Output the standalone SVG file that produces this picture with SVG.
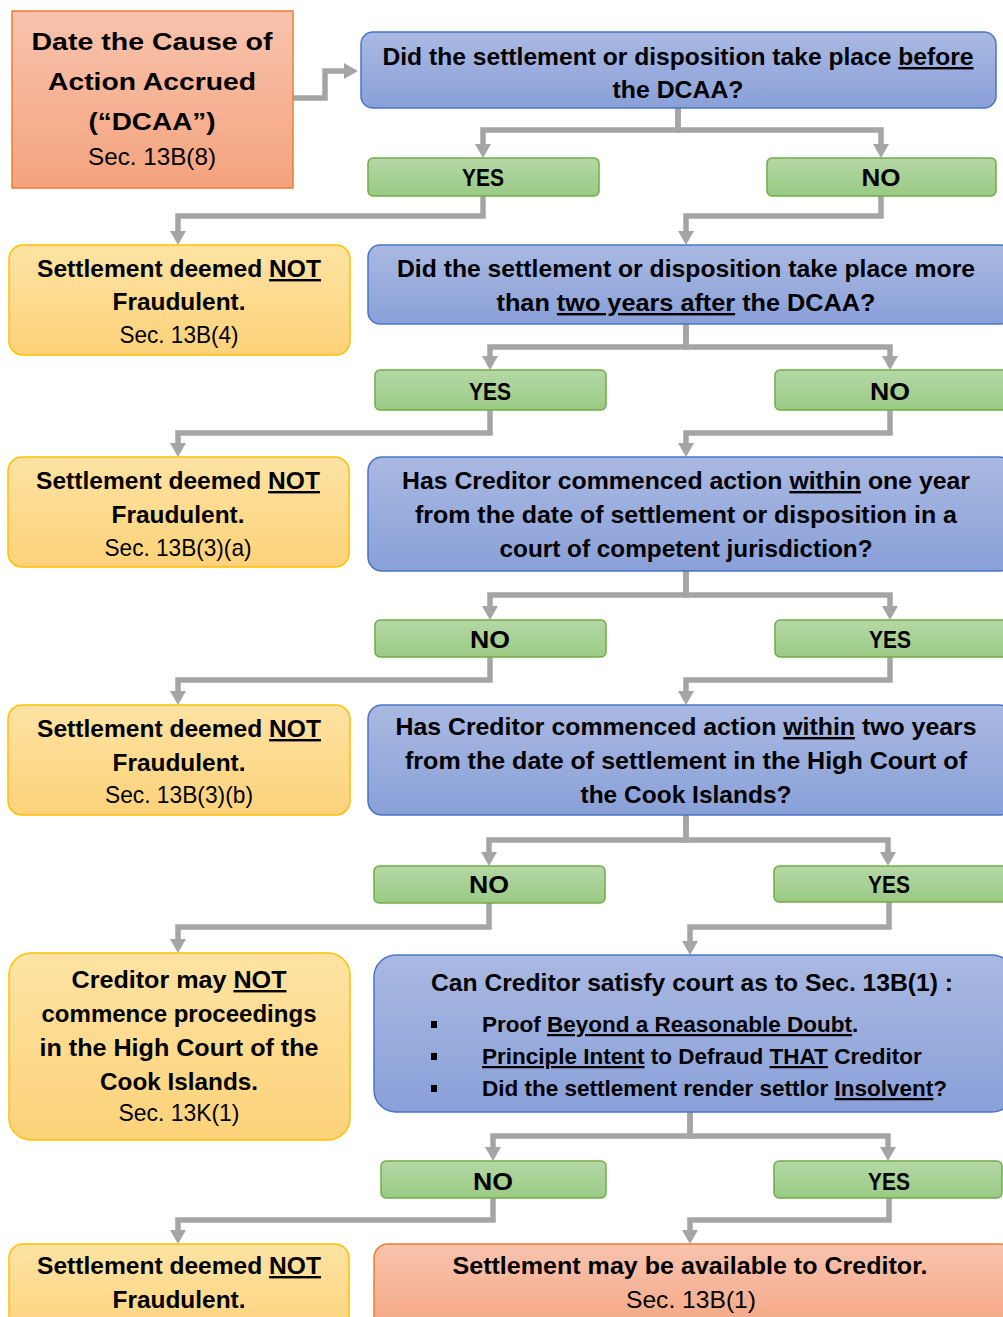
<svg xmlns="http://www.w3.org/2000/svg" width="1003" height="1317" viewBox="0 0 1003 1317">
<defs>
<linearGradient id="gBlue" x1="0" y1="0" x2="0" y2="1"><stop offset="0" stop-color="#aab9e2"/><stop offset="1" stop-color="#89a0d8"/></linearGradient>
<linearGradient id="gGreen" x1="0" y1="0" x2="0" y2="1"><stop offset="0" stop-color="#b5d8a6"/><stop offset="1" stop-color="#9aca84"/></linearGradient>
<linearGradient id="gYellow" x1="0" y1="0" x2="0" y2="1"><stop offset="0" stop-color="#fde3a3"/><stop offset="1" stop-color="#fdd27a"/></linearGradient>
<linearGradient id="gOrange" x1="0" y1="0" x2="0" y2="1"><stop offset="0" stop-color="#f8c3ae"/><stop offset="1" stop-color="#f4a37d"/></linearGradient>
<marker id="arr" viewBox="0 0 14 16" markerWidth="14" markerHeight="16" refX="4" refY="8" orient="auto" markerUnits="userSpaceOnUse">
<path d="M0,0 L14,8 L0,16 z" fill="#a5a5a5"/>
</marker>
</defs>
<style>
.blue{fill:url(#gBlue);stroke:#4a74c6;stroke-width:1.5}
.green{fill:url(#gGreen);stroke:#70ad47;stroke-width:1.5}
.yellow{fill:url(#gYellow);stroke:#ffc000;stroke-width:1.5}
.orange{fill:url(#gOrange);stroke:#ed7d31;stroke-width:1.5}
.b{font-family:"Liberation Sans Narrow","Liberation Sans",Arial,sans-serif;font-weight:bold;font-size:24px;fill:#000;text-anchor:middle}
.r{font-family:"Liberation Sans Narrow","Liberation Sans",Arial,sans-serif;font-weight:normal;font-size:24px;fill:#000;text-anchor:middle}
.l{text-anchor:start;font-size:22.5px}
.u{text-decoration:underline}
.c{fill:none;stroke:#a5a5a5;stroke-width:5.5;stroke-linejoin:miter}
</style>

<g id="connectors">
<path class="c" d="M293,98 H325 V71 H348" marker-end="url(#arr)"/>
<path class="c" d="M678,108 V130 H483 V148" marker-end="url(#arr)"/>
<path class="c" d="M678,108 V130 H881 V148" marker-end="url(#arr)"/>
<path class="c" d="M483,196 V216 H178 V235" marker-end="url(#arr)"/>
<path class="c" d="M881,196 V216 H686 V235" marker-end="url(#arr)"/>
<path class="c" d="M686,324 V347 H490 V360" marker-end="url(#arr)"/>
<path class="c" d="M686,324 V347 H890 V360" marker-end="url(#arr)"/>
<path class="c" d="M490,410 V433 H178 V447" marker-end="url(#arr)"/>
<path class="c" d="M890,410 V433 H686 V447" marker-end="url(#arr)"/>
<path class="c" d="M686,571 V595 H490 V610" marker-end="url(#arr)"/>
<path class="c" d="M686,571 V595 H890 V610" marker-end="url(#arr)"/>
<path class="c" d="M490,657 V680 H178 V695" marker-end="url(#arr)"/>
<path class="c" d="M890,657 V680 H686 V695" marker-end="url(#arr)"/>
<path class="c" d="M686,815 V840 H489 V856" marker-end="url(#arr)"/>
<path class="c" d="M686,815 V840 H888 V856" marker-end="url(#arr)"/>
<path class="c" d="M489,903 V927 H178 V943" marker-end="url(#arr)"/>
<path class="c" d="M889,902 V927 H690 V945" marker-end="url(#arr)"/>
<path class="c" d="M690,1112 V1136 H493 V1151" marker-end="url(#arr)"/>
<path class="c" d="M690,1112 V1136 H888 V1151" marker-end="url(#arr)"/>
<path class="c" d="M493,1198 V1220 H178 V1234" marker-end="url(#arr)"/>
<path class="c" d="M889,1198 V1220 H690 V1234" marker-end="url(#arr)"/>
</g>

<g id="start">
<rect class="orange" x="12" y="11" width="281" height="177"/>
<text class="b" x="152" y="50" font-size="28" textLength="241" lengthAdjust="spacingAndGlyphs">Date the Cause of</text>
<text class="b" x="152" y="90" font-size="28" textLength="208" lengthAdjust="spacingAndGlyphs">Action Accrued</text>
<text class="b" x="152" y="130" font-size="28" textLength="127" lengthAdjust="spacingAndGlyphs">(“DCAA”)</text>
<text class="r" x="152" y="165" textLength="128" lengthAdjust="spacingAndGlyphs">Sec. 13B(8)</text>
</g>

<g id="q1">
<rect class="blue" x="361" y="32" width="635" height="76" rx="12"/>
<text class="b" x="678" y="65" textLength="591" lengthAdjust="spacingAndGlyphs">Did the settlement or disposition take place <tspan class="u">before</tspan></text>
<text class="b" x="678" y="98" textLength="131" lengthAdjust="spacingAndGlyphs">the DCAA?</text>
</g>
<g id="q1-yes">
<rect class="green" x="368" y="158" width="231" height="38" rx="5"/>
<text class="b" x="483" y="186" textLength="42" lengthAdjust="spacingAndGlyphs">YES</text>
</g>
<g id="q1-no">
<rect class="green" x="767" y="158" width="229" height="38" rx="5"/>
<text class="b" x="881" y="186" textLength="39" lengthAdjust="spacingAndGlyphs">NO</text>
</g>

<g id="r1">
<rect class="yellow" x="9" y="245" width="341" height="110" rx="14"/>
<text class="b" x="179" y="277" textLength="284" lengthAdjust="spacingAndGlyphs">Settlement deemed <tspan class="u">NOT</tspan></text>
<text class="b" x="179" y="310" textLength="133" lengthAdjust="spacingAndGlyphs">Fraudulent.</text>
<text class="r" x="179" y="343" textLength="119" lengthAdjust="spacingAndGlyphs">Sec. 13B(4)</text>
</g>

<g id="q2">
<rect class="blue" x="368" y="245" width="645" height="79" rx="12"/>
<text class="b" x="686" y="277" textLength="578" lengthAdjust="spacingAndGlyphs">Did the settlement or disposition take place more</text>
<text class="b" x="686" y="311" textLength="379" lengthAdjust="spacingAndGlyphs">than <tspan class="u">two years after</tspan> the DCAA?</text>
</g>
<g id="q2-yes">
<rect class="green" x="375" y="370" width="231" height="40" rx="5"/>
<text class="b" x="490" y="400" textLength="42" lengthAdjust="spacingAndGlyphs">YES</text>
</g>
<g id="q2-no">
<rect class="green" x="775" y="370" width="235" height="40" rx="5"/>
<text class="b" x="890" y="400" textLength="40" lengthAdjust="spacingAndGlyphs">NO</text>
</g>

<g id="r2">
<rect class="yellow" x="8" y="457" width="341" height="110" rx="14"/>
<text class="b" x="178" y="489" textLength="284" lengthAdjust="spacingAndGlyphs">Settlement deemed <tspan class="u">NOT</tspan></text>
<text class="b" x="178" y="523" textLength="133" lengthAdjust="spacingAndGlyphs">Fraudulent.</text>
<text class="r" x="178" y="556" textLength="147" lengthAdjust="spacingAndGlyphs">Sec. 13B(3)(a)</text>
</g>

<g id="q3">
<rect class="blue" x="368" y="457" width="645" height="114" rx="14"/>
<text class="b" x="686" y="489" textLength="568" lengthAdjust="spacingAndGlyphs">Has Creditor commenced action <tspan class="u">within</tspan> one year</text>
<text class="b" x="686" y="523" textLength="542" lengthAdjust="spacingAndGlyphs">from the date of settlement or disposition in a</text>
<text class="b" x="686" y="557" textLength="373" lengthAdjust="spacingAndGlyphs">court of competent jurisdiction?</text>
</g>
<g id="q3-no">
<rect class="green" x="375" y="620" width="231" height="37" rx="5"/>
<text class="b" x="490" y="648" textLength="40" lengthAdjust="spacingAndGlyphs">NO</text>
</g>
<g id="q3-yes">
<rect class="green" x="775" y="620" width="235" height="37" rx="5"/>
<text class="b" x="890" y="648" textLength="42" lengthAdjust="spacingAndGlyphs">YES</text>
</g>

<g id="r3">
<rect class="yellow" x="8" y="705" width="342" height="110" rx="14"/>
<text class="b" x="179" y="737" textLength="284" lengthAdjust="spacingAndGlyphs">Settlement deemed <tspan class="u">NOT</tspan></text>
<text class="b" x="179" y="771" textLength="133" lengthAdjust="spacingAndGlyphs">Fraudulent.</text>
<text class="r" x="179" y="803" textLength="148" lengthAdjust="spacingAndGlyphs">Sec. 13B(3)(b)</text>
</g>

<g id="q4">
<rect class="blue" x="368" y="705" width="645" height="110" rx="14"/>
<text class="b" x="686" y="735" textLength="581" lengthAdjust="spacingAndGlyphs">Has Creditor commenced action <tspan class="u">within</tspan> two years</text>
<text class="b" x="686" y="769" textLength="562" lengthAdjust="spacingAndGlyphs">from the date of settlement in the High Court of</text>
<text class="b" x="686" y="803" textLength="211" lengthAdjust="spacingAndGlyphs">the Cook Islands?</text>
</g>
<g id="q4-no">
<rect class="green" x="374" y="866" width="231" height="37" rx="5"/>
<text class="b" x="489" y="893" textLength="40" lengthAdjust="spacingAndGlyphs">NO</text>
</g>
<g id="q4-yes">
<rect class="green" x="774" y="866" width="236" height="36" rx="5"/>
<text class="b" x="889" y="893" textLength="42" lengthAdjust="spacingAndGlyphs">YES</text>
</g>

<g id="r4">
<rect class="yellow" x="9" y="953" width="341" height="187" rx="22"/>
<text class="b" x="179" y="988" textLength="215" lengthAdjust="spacingAndGlyphs">Creditor may <tspan class="u">NOT</tspan></text>
<text class="b" x="179" y="1022" textLength="275" lengthAdjust="spacingAndGlyphs">commence proceedings</text>
<text class="b" x="179" y="1056" textLength="279" lengthAdjust="spacingAndGlyphs">in the High Court of the</text>
<text class="b" x="179" y="1090" textLength="158" lengthAdjust="spacingAndGlyphs">Cook Islands.</text>
<text class="r" x="179" y="1121" textLength="121" lengthAdjust="spacingAndGlyphs">Sec. 13K(1)</text>
</g>

<g id="q5">
<rect class="blue" x="374" y="955" width="640" height="157" rx="22"/>
<text class="b" x="692" y="991" textLength="522" lengthAdjust="spacingAndGlyphs">Can Creditor satisfy court as to Sec. 13B(1) :</text>
<rect x="431" y="1021" width="6" height="7" fill="#000"/>
<rect x="431" y="1053" width="6" height="7" fill="#000"/>
<rect x="431" y="1085" width="6" height="7" fill="#000"/>
<text class="b l" x="482" y="1032">Proof <tspan class="u">Beyond a Reasonable Doubt</tspan>.</text>
<text class="b l" x="482" y="1064"><tspan class="u">Principle Intent</tspan> to Defraud <tspan class="u">THAT</tspan> Creditor</text>
<text class="b l" x="482" y="1096">Did the settlement render settlor <tspan class="u">Insolvent</tspan>?</text>
</g>
<g id="q5-no">
<rect class="green" x="381" y="1161" width="225" height="37" rx="5"/>
<text class="b" x="493" y="1190" textLength="40" lengthAdjust="spacingAndGlyphs">NO</text>
</g>
<g id="q5-yes">
<rect class="green" x="774" y="1161" width="228" height="37" rx="5"/>
<text class="b" x="889" y="1190" textLength="42" lengthAdjust="spacingAndGlyphs">YES</text>
</g>

<g id="r5">
<rect class="yellow" x="9" y="1244" width="340" height="100" rx="14"/>
<text class="b" x="179" y="1274" textLength="284" lengthAdjust="spacingAndGlyphs">Settlement deemed <tspan class="u">NOT</tspan></text>
<text class="b" x="179" y="1308" textLength="133" lengthAdjust="spacingAndGlyphs">Fraudulent.</text>
</g>

<g id="end">
<rect class="orange" x="374" y="1244" width="640" height="100" rx="14"/>
<text class="b" x="690" y="1274" textLength="475" lengthAdjust="spacingAndGlyphs">Settlement may be available to Creditor.</text>
<text class="r" x="691" y="1308" textLength="130" lengthAdjust="spacingAndGlyphs">Sec. 13B(1)</text>
</g>
</svg>
